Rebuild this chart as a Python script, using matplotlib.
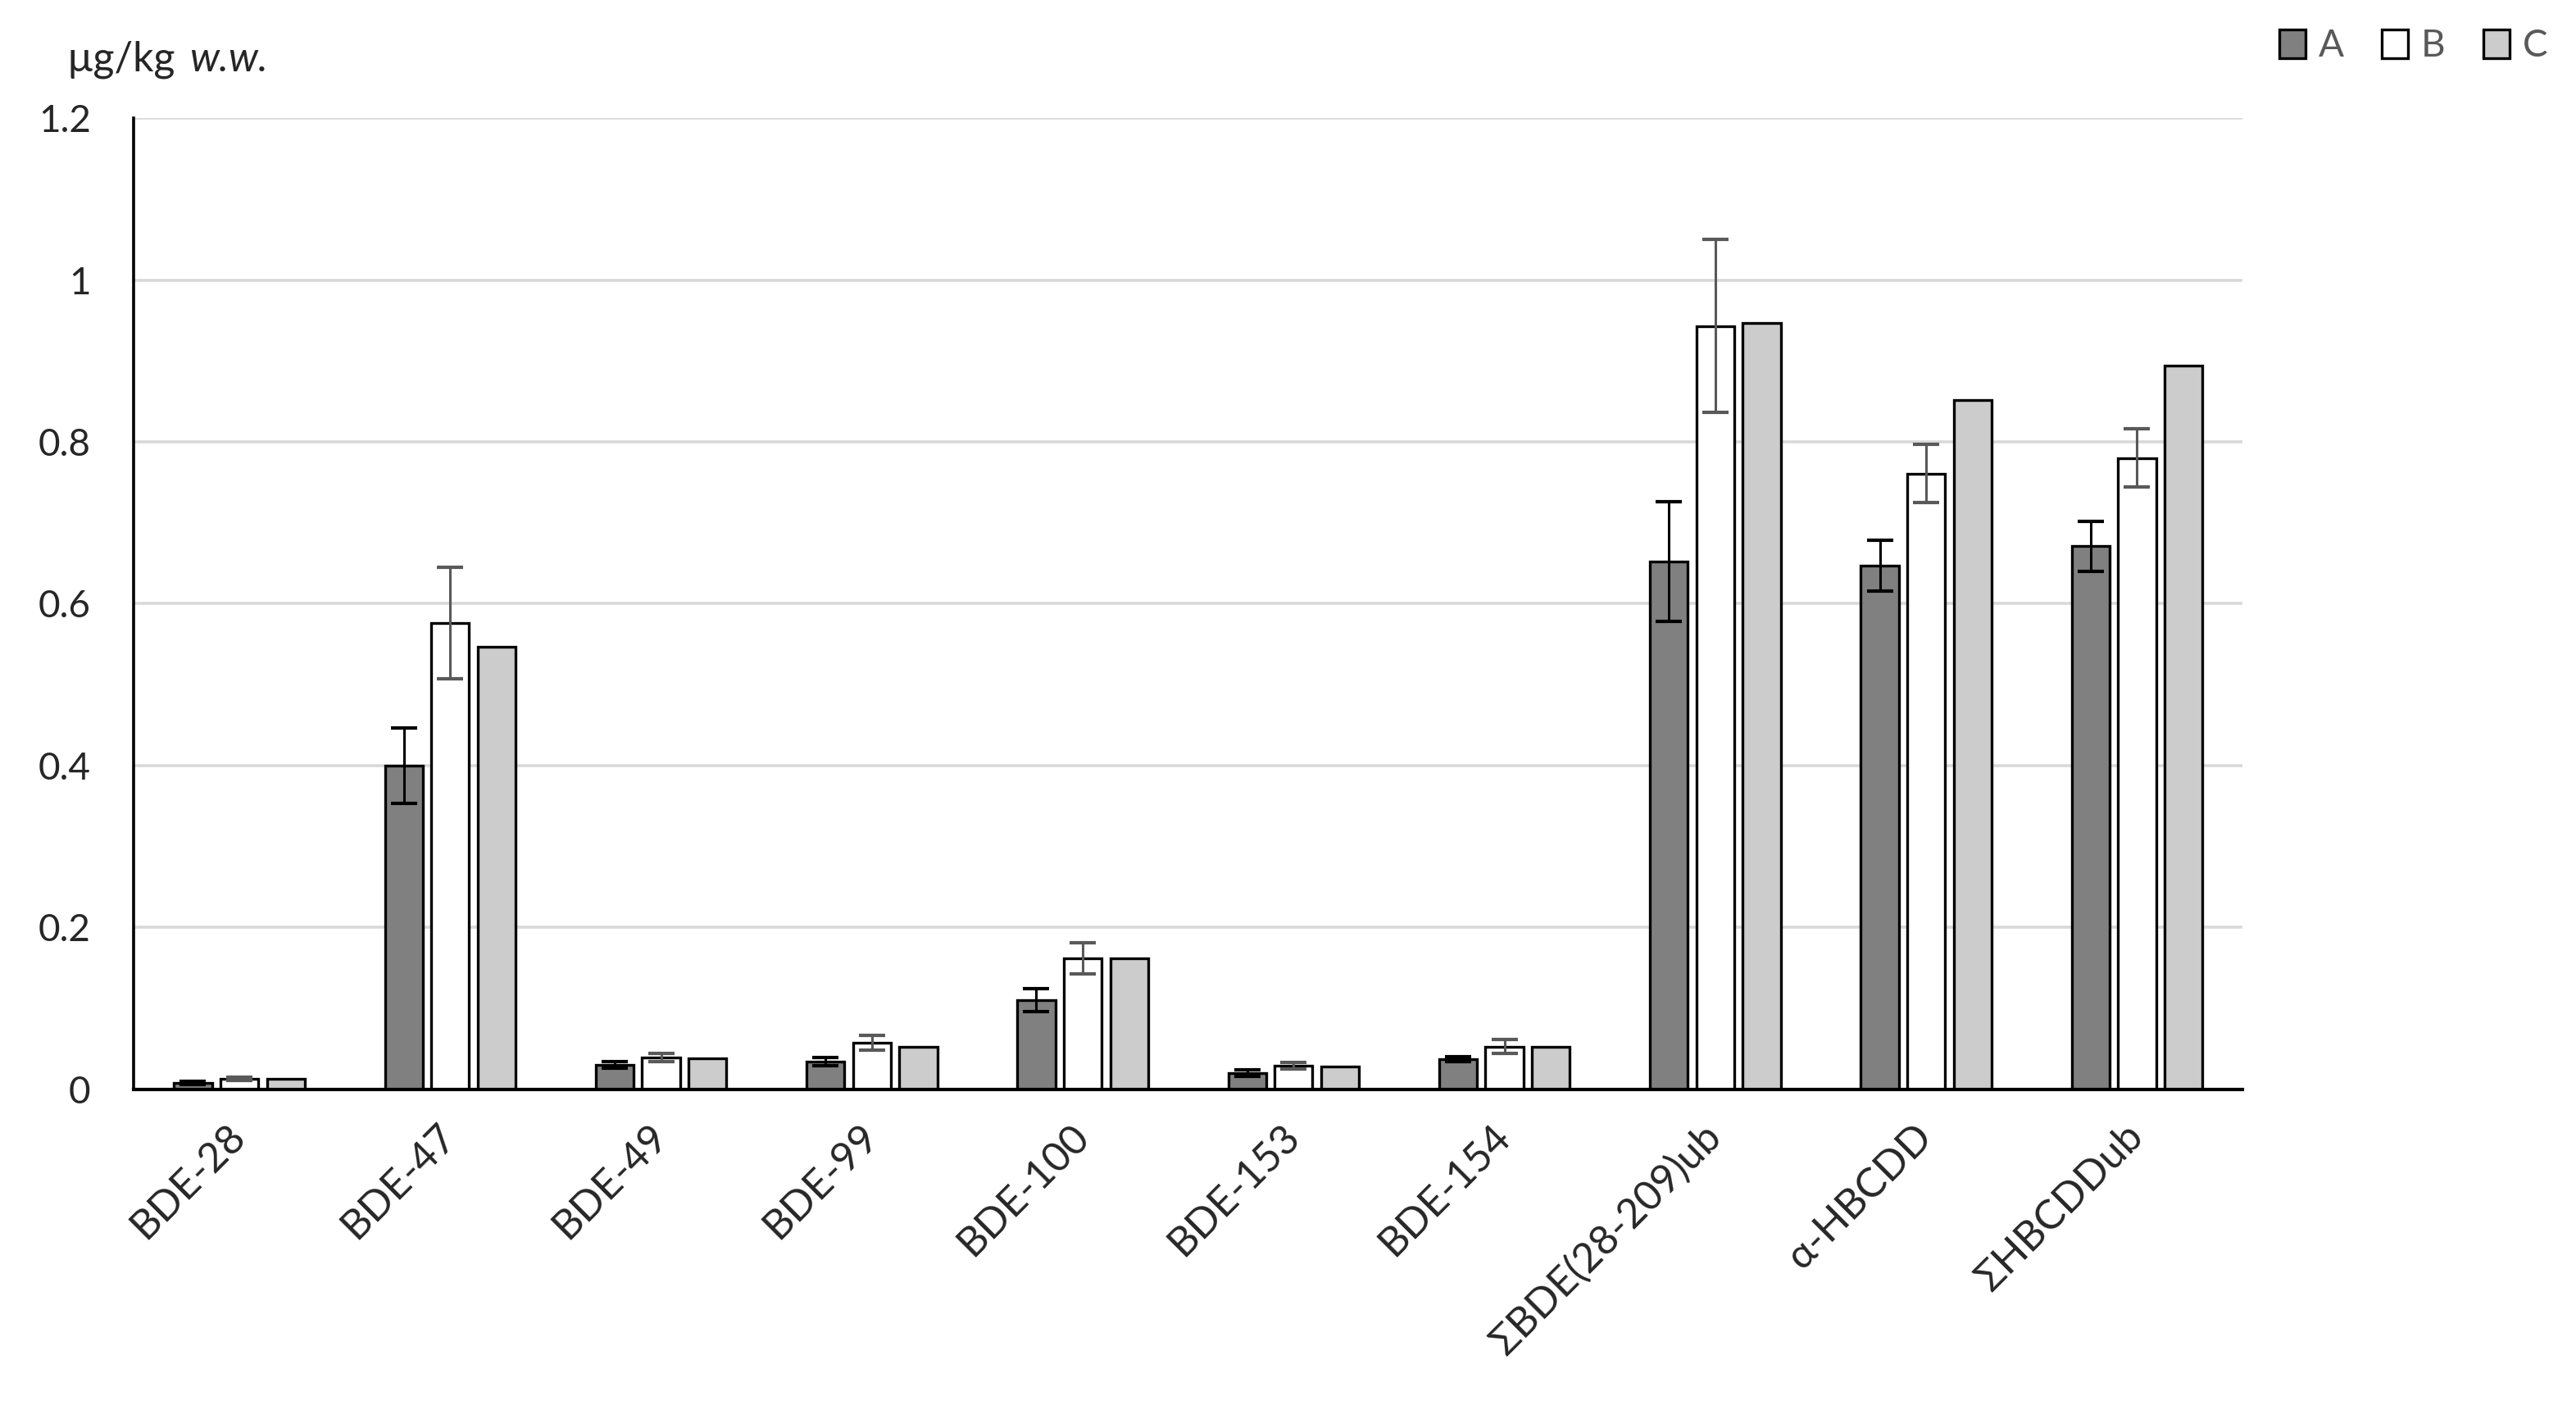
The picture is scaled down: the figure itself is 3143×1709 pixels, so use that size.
import numpy as np
import matplotlib
matplotlib.use("Agg")
import matplotlib.pyplot as plt

# values (µg/kg w.w.)
categories = ["BDE-28", "BDE-47", "BDE-49", "BDE-99", "BDE-100", "BDE-153",
              "BDE-154", "ΣBDE(28-209)ub", "α-HBCDD", "ΣHBCDDub"]
a_vals = [0.008, 0.400, 0.030, 0.034, 0.110, 0.020, 0.037, 0.652, 0.647, 0.671]
a_err = [0.002, 0.047, 0.004, 0.005, 0.014, 0.004, 0.003, 0.074, 0.031, 0.031]
b_vals = [0.013, 0.576, 0.039, 0.058, 0.162, 0.029, 0.053, 0.943, 0.761, 0.780]
b_err = [0.002, 0.069, 0.005, 0.009, 0.019, 0.004, 0.009, 0.107, 0.036, 0.036]
c_vals = [0.013, 0.547, 0.038, 0.053, 0.162, 0.028, 0.053, 0.947, 0.852, 0.894]
yticks = [0, 0.2, 0.4, 0.6, 0.8, 1.0, 1.2]
ytick_labels = ["0", "0.2", "0.4", "0.6", "0.8", "1", "1.2"]

plt.rcParams["font.family"] = ["Lato", "DejaVu Sans"]

fig = plt.figure(figsize=(31.43, 17.09), dpi=100)
ax = fig.add_axes([0.052, 0.2224, 0.8185, 0.6933])

x = np.arange(len(categories))
w = 0.18
off = 0.22
edge = dict(edgecolor="black", linewidth=2.4, zorder=3)

ax.bar(x - off, a_vals, w, color="#808080", label="A", **edge)
ax.bar(x, b_vals, w, color="white", label="B", **edge)
ax.bar(x + off, c_vals, w, color="#cccccc", label="C", **edge)

ax.errorbar(x - off, a_vals, yerr=a_err, fmt="none", ecolor="black",
            elinewidth=2.2, capsize=11.5, capthick=3, zorder=4)
ax.errorbar(x, b_vals, yerr=b_err, fmt="none", ecolor="#595959",
            elinewidth=2.2, capsize=11.5, capthick=3, zorder=4)

ax.set_xlim(-0.5, len(categories) - 0.5)
ax.set_ylim(0, 1.2)
ax.set_yticks(yticks)
ax.set_yticklabels(ytick_labels)
ax.set_xticks(x)
ax.set_xticklabels(categories, rotation=45, ha="right", va="center",
                   rotation_mode="anchor")

ax.tick_params(axis="y", length=0, pad=38, labelsize=33, labelcolor="#262626")
ax.tick_params(axis="x", length=0, pad=36, labelsize=36, labelcolor="#262626")

ax.grid(axis="y", color="#d9d9d9", linewidth=2.6, zorder=0)
ax.set_axisbelow(True)
for s in ("top", "right"):
    ax.spines[s].set_visible(False)
ax.spines["left"].set_linewidth(2.6)
ax.spines["bottom"].set_linewidth(3.0)
ax.spines["left"].set_zorder(5)
ax.spines["bottom"].set_zorder(5)

# unit label: upright "µg/kg" followed by italic "w.w."
unit = fig.text(0.026, 0.944, "µg/kg", fontsize=36, color="#262626",
                va="bottom", ha="left")
fig.add_artist(plt.Annotation("w.w.", xy=(1, 0), xycoords=unit,
                              xytext=(12, 0), textcoords="offset points",
                              fontsize=36, color="#262626", style="italic",
                              va="bottom", ha="left"))

leg = fig.legend(loc="center left", bbox_to_anchor=(0.879, 0.967), ncol=3,
                 frameon=False, fontsize=33, handlelength=0.7, handleheight=0.8,
                 handletextpad=0.35, columnspacing=1.0, borderaxespad=0)
for t in leg.get_texts():
    t.set_color("#595959")

fig.savefig("out.png", dpi=100, facecolor="white")
